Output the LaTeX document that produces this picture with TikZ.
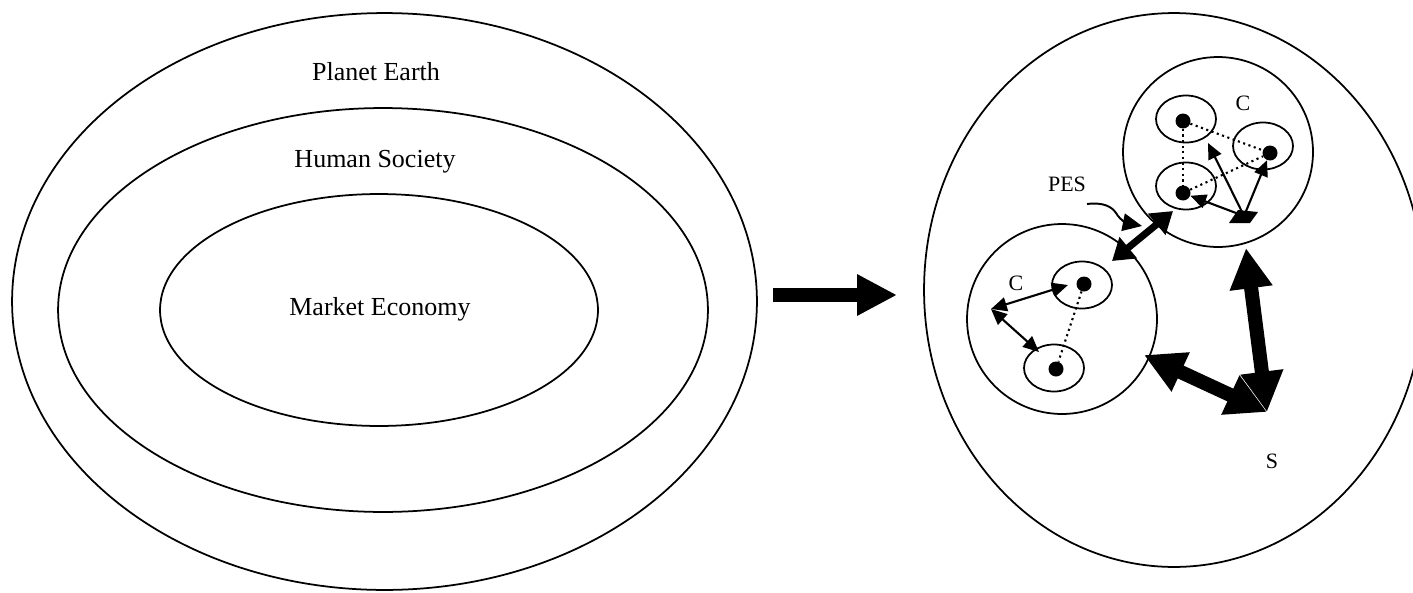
\documentclass[tikz,border=0pt]{standalone}
\usepackage{fontspec}
\setmainfont{Liberation Serif}
\usetikzlibrary{arrows.meta,shapes.geometric}

\begin{document}
\begin{tikzpicture}[x=0.02cm,y=-0.02cm]
			\tikzstyle{ring}=[ellipse, draw, line width=1pt, inner sep=0pt]
			\tikzstyle{club}=[circle, draw, line width=1pt, inner sep=0pt, minimum size=3.8cm]
			\tikzstyle{cell}=[ellipse, draw, line width=1pt, inner sep=0pt,
				minimum width=1.2cm, minimum height=0.94cm]
			\tikzstyle{dot}=[circle, fill=black, inner sep=0pt, minimum size=0.3cm]
			\tikzstyle{bigtext}=[font=\fontsize{14.8}{17}\selectfont]
			\tikzstyle{smalltext}=[font=\fontsize{12.5}{14}\selectfont]
			\tikzstyle{thin}=[line width=1.2pt, -{Triangle[length=9pt,width=8pt]}]
			\tikzstyle{thinboth}=[line width=1.2pt, {Triangle[length=9pt,width=8pt]}-{Triangle[length=9pt,width=8pt]}]
			\tikzstyle{link}=[line width=4pt, {Triangle[length=12pt,width=15pt]}-{Triangle[length=12pt,width=15pt]}]
			\tikzstyle{flow}=[line width=8pt, {Triangle[length=23pt,width=23pt]}-{Triangle[length=23pt,width=23pt]}]
			\tikzstyle{tie}=[line width=1.2pt, dotted]
			\useasboundingbox (0,0) rectangle (1413,592);
			% left: nested systems
			\node[ring, minimum width=14.9cm, minimum height=11.54cm] (earth) at (384.5,301.5) {};
			\node[ring, minimum width=13cm, minimum height=8.08cm] (society) at (383,310) {};
			\node[ring, minimum width=8.76cm, minimum height=4.64cm] (market) at (379,310) {};
			\node[bigtext] (earthtxt) at (376,72) {Planet Earth};
			\node[bigtext] (societytxt) at (375,162) {Human Society};
			\node[bigtext] (markettxt) at (380,309) {Market Economy};
			% transition
			\coordinate (go1) at (773,295);
			\coordinate (go2) at (897,295);
			\draw[line width=8pt, -{Triangle[length=22.7pt,width=22pt]}] (go1) -- (go2);
			% right: communities
			\node[ring, minimum width=10cm, minimum height=11.08cm] (world) at (1174,290) {};
			\node[club] (cu) at (1218,152) {};
			\node[club] (cl) at (1062,319) {};
			\node[cell] (e1) at (1186,119) {};
			\node[cell] (e2) at (1263,146) {};
			\node[cell] (e3) at (1186,186) {};
			\node[cell] (e4) at (1082,285) {};
			\node[cell] (e5) at (1054,368) {};
			\node[dot] (d1) at (1183,121) {};
			\node[dot] (d2) at (1270,153) {};
			\node[dot] (d3) at (1183,193) {};
			\node[dot] (d4) at (1084,284) {};
			\node[dot] (d5) at (1056,369) {};
			\node[smalltext] (cutxt) at (1243,103) {C};
			\node[smalltext] (cltxt) at (1016,283) {C};
			\node[smalltext] (pes) at (1067,184) {PES};
			\node[smalltext] (s) at (1272,461) {S};
			\draw[tie] (d1) -- (d2);
			\draw[tie] (d1) -- (d3);
			\draw[tie] (d3) -- (d2);
			\draw[tie] (d4) -- (d5);
			% upper community
			\coordinate (hub) at (1244,216);
			\coordinate (up) at (1208,143);
			\fill (hub) +(-15,7) -- +(-6,-6) -- +(14,-4) -- +(6,7) -- cycle;
			\draw[thin] (hub) -- (d3);
			\draw[thin] (hub) -- (up);
			\draw[thin] (hub) -- (d2);
			% lower community
			\coordinate (vx) at (991,309);
			\coordinate (ta) at (1068,285);
			\coordinate (tb) at (1039,352);
			\draw[thinboth] (vx) -- (ta);
			\draw[thinboth] (vx) -- (tb);
			% between communities
			\coordinate (pu) at (1173,211);
			\coordinate (pl) at (1112,261);
			\draw[link] (pl) -- (pu);
			\coordinate (pesa) at (1087,204);
			\coordinate (pesb) at (1142,226);
			\draw[line width=1.1pt, -{Triangle[length=11pt,width=10pt]}] (pesa) .. controls (1104,202) and (1112,207) .. (1116,213) .. controls (1120,220) and (1127,223) .. (pesb);
			\coordinate (sa) at (1144,355);
			\coordinate (sb) at (1267,412);
			\coordinate (sc) at (1246,248);
			\draw[flow] (sa) -- (sb);
			\draw[flow] (sc) -- (sb);
		\end{tikzpicture}
\end{document}
